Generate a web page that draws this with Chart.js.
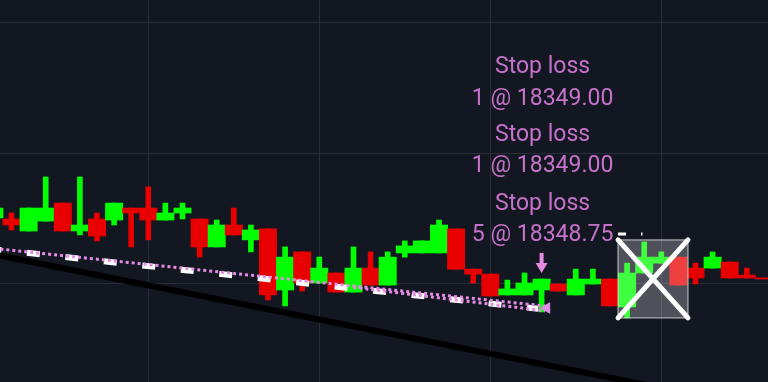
<!DOCTYPE html>
<html>
<head>
<meta charset="utf-8">
<script src="https://cdn.jsdelivr.net/npm/chart.js@4.4.0/dist/chart.umd.min.js"></script>
<style>
  html, body { margin: 0; padding: 0; background: #131722; overflow: hidden; }
  #wrap { width: 768px; height: 382px; }
</style>
</head>
<body>
<div id="wrap"><canvas id="myChart" width="768" height="382"></canvas></div>
<script>
// candle index (bar number) and OHLC prices
var bars = [-1, 0, 1, 2, 3, 4, 5, 6, 7, 8, 9, 10, 11, 12, 13, 14, 15, 16, 17, 18, 19, 20, 21, 22,
  23, 24, 25, 26, 27, 28, 29, 30, 31, 32, 33, 34, 35, 36, 37, 38, 39, 40, 41, 42, 43, 44];
var opens = [18352.53, 18352.49, 18352.03, 18352.41, 18353.10, 18352.03, 18352.49, 18352.45, 18352.91, 18352.91,
  18352.45, 18352.72, 18352.49, 18351.42, 18352.26, 18351.69, 18352.11, 18349.77, 18351.23, 18350.04,
  18350.42, 18349.69, 18350.61, 18349.96, 18351.19, 18351.19, 18351.19, 18352.11, 18350.57, 18350.38,
  18349.58, 18349.58, 18349.77, 18350.00, 18349.58, 18350.00, 18350.19, 18349.12, 18350.42, 18350.80,
  18351.03, 18350.61, 18350.61, 18350.84, 18350.34, 18350.23];
var highs = [18352.91, 18352.72, 18352.91, 18354.10, 18353.10, 18354.10, 18352.72, 18353.10, 18352.91, 18353.72,
  18353.10, 18353.10, 18352.49, 18352.45, 18352.91, 18352.26, 18352.11, 18351.42, 18351.23, 18351.03,
  18350.42, 18351.42, 18351.23, 18351.23, 18351.65, 18351.65, 18352.45, 18352.11, 18350.57, 18350.38,
  18350.15, 18350.42, 18350.19, 18350.00, 18350.57, 18350.57, 18350.19, 18350.80, 18351.61, 18351.23,
  18351.03, 18350.80, 18351.23, 18350.84, 18350.61, 18350.23];
var lows = [18352.53, 18352.07, 18352.03, 18352.41, 18352.03, 18351.88, 18351.65, 18352.26, 18351.42, 18351.69,
  18352.45, 18352.49, 18351.03, 18351.42, 18351.88, 18351.23, 18349.39, 18349.16, 18349.73, 18350.04,
  18349.69, 18349.69, 18349.96, 18349.96, 18351.03, 18351.19, 18351.19, 18350.57, 18350.04, 18349.54,
  18349.58, 18349.58, 18348.93, 18349.73, 18349.58, 18350.00, 18349.16, 18348.70, 18350.42, 18350.80,
  18349.96, 18350.00, 18350.61, 18350.23, 18350.23, 18350.23];
var closes = [18352.91, 18352.26, 18352.91, 18352.91, 18352.03, 18352.26, 18351.84, 18353.10, 18352.72, 18352.45,
  18352.72, 18352.91, 18351.42, 18352.26, 18351.88, 18352.07, 18349.58, 18351.03, 18350.04, 18350.61,
  18349.69, 18350.61, 18349.96, 18351.03, 18351.46, 18351.65, 18352.26, 18350.57, 18350.38, 18349.54,
  18349.81, 18350.04, 18350.19, 18349.73, 18350.19, 18350.19, 18349.16, 18350.42, 18351.03, 18351.03,
  18349.96, 18350.23, 18351.03, 18350.23, 18350.23, 18350.23];

// drawn lines: [bar, price]
var trendBlack = [[-1, 18351.13], [45, 18345.10]];
var trendWhite = [[-1, 18351.33], [30.8, 18349.05]];
var trendPinkA = [[-1, 18351.36], [31.2, 18349.16]];
var trendPinkB = [[20, 18349.87], [31.2, 18348.97]];
var pinkEnd = [[31.3, 18349.08]];
var whiteTicks = [[35.47, 18351.92], [36.9, 18351.92]];

// order markers
var orderBar = 31;
var orderArrow = [18351.19, 18350.42];
var orderLabels = ["Stop loss", "1 @ 18349.00", "Stop loss", "1 @ 18349.00", "Stop loss", "5 @ 18348.75"];
var orderLabelPrices = [18358.30, 18357.06, 18355.68, 18354.50, 18353.04, 18351.85];

// crossed-out box: [bar from, bar to], [price top, price bottom]
var boxBars = [35.47, 39.56];
var boxPrices = [18351.69, 18348.70];

var gridBars = [8, 18, 28, 38];
var gridPrices = [18350, 18355, 18360];

var upColor = "#00ff00";
var downColor = "#e80000";
var pink = "#e48ce4";

function pts(arr) { return arr.map(p => ({ x: p[0], y: p[1] })); }

var bodyData = bars.map((b, i) => ({
  x: b,
  y: [opens[i], closes[i] === opens[i] ? opens[i] - 0.04 : closes[i]]
}));
var wickData = bars.map((b, i) => ({ x: b, y: [lows[i], highs[i]] }));
var candleColors = bars.map((b, i) => closes[i] >= opens[i] && closes[i] !== opens[i] ? upColor : downColor);

var overlays = {
  id: "overlays",
  afterDatasetsDraw(chart) {
    const ctx = chart.ctx;
    const x = chart.scales.x, y = chart.scales.y;
    ctx.save();

    // box with X
    const x0 = x.getPixelForValue(boxBars[0]), x1 = x.getPixelForValue(boxBars[1]);
    const y0 = y.getPixelForValue(boxPrices[0]), y1 = y.getPixelForValue(boxPrices[1]);
    ctx.fillStyle = "rgba(255,255,255,0.25)";
    ctx.fillRect(x0, y0, x1 - x0, y1 - y0);
    ctx.strokeStyle = "rgba(220,220,220,0.6)";
    ctx.lineWidth = 1.5;
    ctx.strokeRect(x0, y0, x1 - x0, y1 - y0);
    ctx.strokeStyle = "#ffffff";
    ctx.lineWidth = 5;
    ctx.lineCap = "round";
    ctx.beginPath();
    ctx.moveTo(x0, y0); ctx.lineTo(x1, y1);
    ctx.moveTo(x1, y0); ctx.lineTo(x0, y1);
    ctx.stroke();

    // arrow
    const ax = x.getPixelForValue(orderBar);
    const ay0 = y.getPixelForValue(orderArrow[0]);
    const ay1 = y.getPixelForValue(orderArrow[1]);
    ctx.fillStyle = pink;
    ctx.fillRect(ax - 2, ay0, 4, ay1 - ay0 - 8);
    ctx.beginPath();
    ctx.moveTo(ax - 6, ay1 - 10);
    ctx.lineTo(ax + 6, ay1 - 10);
    ctx.lineTo(ax, ay1);
    ctx.closePath();
    ctx.fill();

    // labels
    ctx.font = "23px Roboto";
    ctx.fillStyle = "#c672ca";
    ctx.textAlign = "center";
    ctx.textBaseline = "middle";
    orderLabels.forEach((t, i) => {
      ctx.fillText(t, ax + 1, y.getPixelForValue(orderLabelPrices[i]));
    });
    ctx.restore();
  }
};

new Chart("myChart", {
  type: "bar",
  data: {
    datasets: [
      {
        type: "line", data: pts(trendBlack), borderColor: "#000000", borderWidth: 6,
        pointRadius: 0, order: 0
      },
      {
        type: "line", data: pts(trendPinkA), borderColor: pink, borderWidth: 3,
        borderDash: [3, 3], pointRadius: 0, order: 0
      },
      {
        type: "line", data: pts(trendPinkB), borderColor: pink, borderWidth: 3,
        borderDash: [3, 3], pointRadius: 0, order: 0
      },
      {
        type: "line", data: pts(trendWhite), borderColor: "#ffffff", borderWidth: 6,
        borderDash: [13, 25.7], borderDashOffset: 6, pointRadius: 0, order: 0
      },
      {
        type: "line", data: pts(whiteTicks), borderColor: "#ffffff", borderWidth: 3,
        borderDash: [8, 15], pointRadius: 0, order: 0
      },
      {
        type: "scatter", data: pts(pinkEnd), pointStyle: "triangle", rotation: -90,
        pointRadius: 6, backgroundColor: pink, borderColor: pink, order: 0
      },
      {
        data: wickData, backgroundColor: candleColors, barThickness: 5, grouped: false, order: 2
      },
      {
        data: bodyData, backgroundColor: candleColors, barThickness: 17.3, grouped: false, order: 2
      }
    ]
  },
  options: {
    responsive: false,
    animation: false,
    layout: { padding: 0, autoPadding: false },
    plugins: { legend: { display: false }, tooltip: { enabled: false } },
    scales: {
      x: {
        type: "linear",
        offset: false,
        min: -0.6725,
        max: 44.24,
        afterBuildTicks: s => { s.ticks = gridBars.map(v => ({ value: v })); },
        ticks: { display: false },
        grid: { color: "#2a2e39", drawTicks: false, offset: false },
        border: { display: false }
      },
      y: {
        min: 18346.245,
        max: 18360.881,
        afterBuildTicks: s => { s.ticks = gridPrices.map(v => ({ value: v })); },
        ticks: { display: false },
        grid: { color: "#2a2e39", drawTicks: false },
        border: { display: false }
      }
    }
  },
  plugins: [overlays]
});
</script>
</body>
</html>
